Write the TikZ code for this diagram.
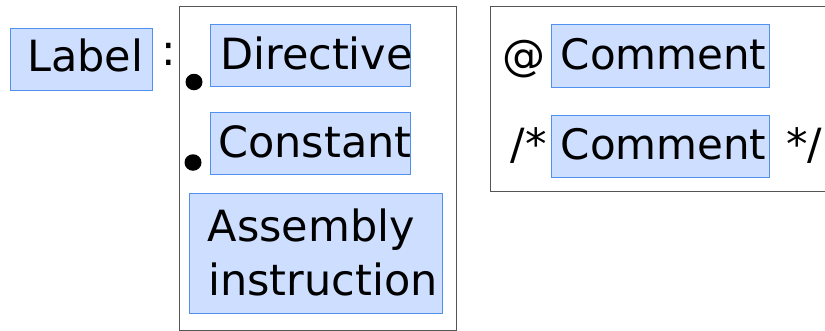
\documentclass[tikz,border=0pt]{standalone}
\usepackage{fontspec}
\usetikzlibrary{shapes.geometric}
\setmainfont{DejaVu Sans}
\definecolor{boxfill}{RGB}{205,222,255}
\definecolor{boxline}{RGB}{80,145,240}
\definecolor{frameline}{RGB}{85,85,85}
\begin{document}
\begin{tikzpicture}[x=1pt,y=-1pt,
  tok/.style={draw=boxline,fill=boxfill,line width=1pt,rectangle,inner sep=0pt},
  txt/.style={inner sep=0pt,anchor=base west,font=\fontsize{43}{54}\selectfont},
  frame/.style={draw=frameline,line width=1pt},
  dot/.style={fill=black,ellipse,inner sep=0pt,minimum width=17pt,minimum height=16.5pt}]
\useasboundingbox (0,0) rectangle (825,330);
% frames
\node[frame,rectangle,inner sep=0pt,anchor=north west,minimum width=277.5pt,minimum height=323.5pt] (leftframe) at (178.5,6) {};
\node[frame,rectangle,inner sep=0pt,anchor=north west,minimum width=345pt,minimum height=185pt] (rightframe) at (490,6) {};
% boxes
\node[tok,anchor=north west,minimum width=142pt,minimum height=62pt] (labelbox) at (10,28) {};
\node[tok,anchor=north west,minimum width=200pt,minimum height=62pt] (dirbox) at (210,24) {};
\node[tok,anchor=north west,minimum width=200pt,minimum height=62pt] (constbox) at (210,112) {};
\node[tok,anchor=north west,minimum width=253pt,minimum height=120pt] (asmbox) at (189,193) {};
\node[tok,anchor=north west,minimum width=218pt,minimum height=63pt] (com1box) at (551,24) {};
\node[tok,anchor=north west,minimum width=218pt,minimum height=62pt] (com2box) at (551,115) {};
% bullets
\node[dot] (bul1) at (194,82) {};
\node[dot] (bul2) at (193,162.5) {};
% texts
\node[txt] (labeltxt) at (27,71) {Label};
\node[txt] (colon) at (161.5,65) {:};
\node[txt] (dirtxt) at (220,69.5) {Directive};
\node[txt] (consttxt) at (218,157.5) {Constant};
\node[txt] (asm1) at (207.5,241) {Assembly};
\node[txt] (asm2) at (208,295) {instruction};
\node[txt] (at) at (502.5,70) {@};
\node[txt,font=\fontsize{42}{54}\selectfont] (com1txt) at (560.5,69.5) {Comment};
\node[txt] (open) at (510.5,159.5) {/*};
\node[txt,font=\fontsize{42}{54}\selectfont] (com2txt) at (560.5,159.5) {Comment};
\node[txt] (close) at (786,159.5) {*/};
\end{tikzpicture}
\end{document}
